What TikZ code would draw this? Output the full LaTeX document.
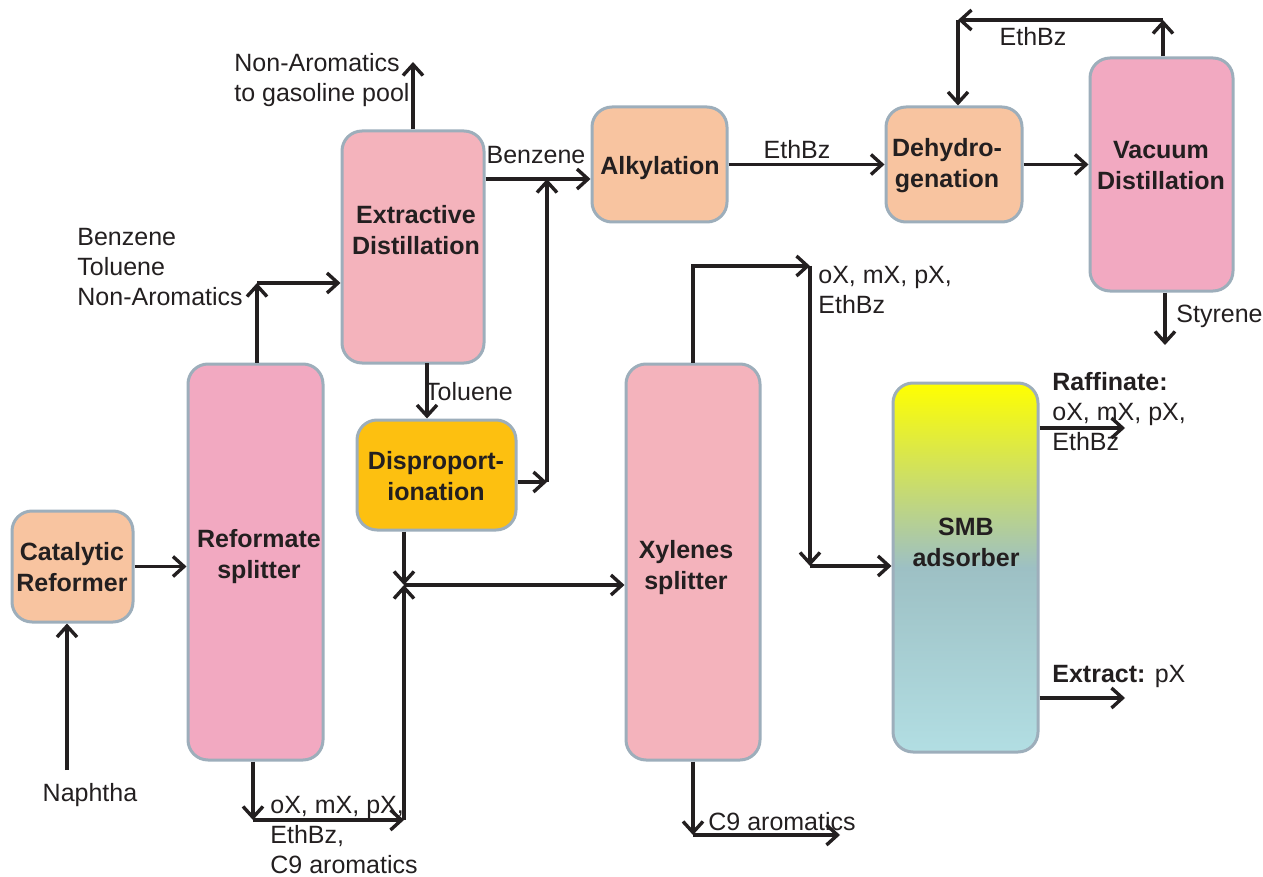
\documentclass[tikz,border=0pt]{standalone}
\usepackage{fontspec}
\setmainfont{Liberation Sans}
\usetikzlibrary{arrows.meta}

\definecolor{ink}{HTML}{231F20}
\definecolor{edgegray}{HTML}{9DAEBB}
\definecolor{peach}{HTML}{F8C4A0}
\definecolor{rose}{HTML}{F2A9C1}
\definecolor{blush}{HTML}{F4B3BC}
\definecolor{amber}{HTML}{FDC010}
\definecolor{smbtop}{HTML}{FFFF00}
\definecolor{smbmid}{HTML}{9DC0C4}
\definecolor{smbbot}{HTML}{B2DEE3}

\begin{document}
\begin{tikzpicture}[
  x = 0.5pt, y = -0.5pt,
  unit/.style = {
    shape = rectangle,
    rounded corners = 10pt,
    draw = edgegray,
    line width = 1.5pt,
    inner sep = 0pt,
  },
  unittext/.style = {
    font = \fontsize{12.5}{15.5}\selectfont\bfseries,
    text = ink,
    align = center,
    inner sep = 0pt,
  },
  stream/.style = {
    font = \fontsize{12.5}{15}\selectfont,
    text = ink,
    align = left,
    inner sep = 0pt,
  },
  flow/.style = {
    line width = 1.7pt,
    draw = ink,
    -{Straight Barb[length=5.5pt,width=10pt]}
  }
]
  \useasboundingbox (0, 0) rectangle (1263, 877);

  % process units
  \draw node[unit, fill = peach, minimum width = 60.5pt, minimum height = 55.5pt] (cat) at (72.5, 566.5) {};
  \draw node[unit, fill = rose, minimum width = 67.5pt, minimum height = 198pt] (split) at (255.5, 562) {};
  \draw node[unit, fill = blush, minimum width = 71pt, minimum height = 116pt] (extr) at (413, 247) {};
  \draw node[unit, fill = amber, minimum width = 79.5pt, minimum height = 55pt] (disp) at (436.5, 475) {};
  \draw node[unit, fill = peach, minimum width = 67.5pt, minimum height = 57.5pt] (alky) at (659.5, 164.5) {};
  \draw node[unit, fill = peach, minimum width = 68pt, minimum height = 57.5pt] (dehyd) at (954, 164.5) {};
  \draw node[unit, fill = rose, minimum width = 71.5pt, minimum height = 116.5pt] (vac) at (1161.5, 174.5) {};
  \draw node[unit, fill = blush, minimum width = 67pt, minimum height = 198pt] (xyl) at (693, 562) {};
  \draw node[unit, top color = smbtop, bottom color = smbbot, middle color = smbmid,
    minimum width = 72.5pt, minimum height = 184.5pt] (smb) at (965.5, 567.5) {};

  \draw node[unittext] (cat-t) at (72, 567.5) {Catalytic\\Reformer};
  \draw node[unittext] (split-t) at (259, 556.5) {Reformate\\splitter};
  \draw node[unittext] (extr-t) at (416, 230) {Extractive\\Distillation};
  \draw node[unittext] (disp-t) at (436, 476) {Disproport-\\ionation};
  \draw node[unittext] (alky-t) at (660, 168) {Alkylation};
  \draw node[unittext] (dehyd-t) at (947, 165.5) {Dehydro-\\genation};
  \draw node[unittext] (vac-t) at (1161, 165.5) {Vacuum\\Distillation};
  \draw node[unittext] (xyl-t) at (686, 567.5) {Xylenes\\splitter};
  \draw node[unittext] (smb-t) at (966, 542.5) {SMB\\adsorber};

  % stream labels
  \draw node[stream] (naph) at (90, 795) {Naphtha};
  \draw node[stream, anchor = north west] (btn) at (77, 228) {Benzene\\Toluene\\Non-Aromatics};
  \draw node[stream, anchor = north west] (gas) at (234, 53) {Non-Aromatics\\to gasoline pool};
  \draw node[stream] (bz-t) at (536, 155) {Benzene};
  \draw node[stream] (tol-t) at (469, 392) {Toluene};
  \draw node[stream, anchor = north west] (mixed) at (270, 796) {oX, mX, pX,\\EthBz,\\C9 aromatics};
  \draw node[stream, anchor = west] (c9-t) at (708, 822) {C9 aromatics};
  \draw node[stream, anchor = north west] (xfeed) at (818, 266) {oX, mX, pX,\\EthBz};
  \draw node[stream] (eb1) at (797, 150) {EthBz};
  \draw node[stream] (eb2) at (1033, 37) {EthBz};
  \draw node[stream, anchor = west] (sty-t) at (1176, 316) {Styrene};
  \draw node[stream, anchor = north west] (raf-t) at (1052, 372) {\textbf{Raffinate:}\\oX, mX, pX,\\EthBz};
  \draw node[stream, anchor = west] (ext-t) at (1052, 676) {\textbf{Extract:} pX};

  % junctions and loose ends
  \coordinate (feed) at (67, 770);
  \coordinate (bt) at (257, 283);
  \coordinate (top) at (413, 62);
  \coordinate (bz) at (547, 179);
  \coordinate (dj) at (547, 482);
  \coordinate (tol) at (427, 363);
  \coordinate (mix) at (404, 585);
  \coordinate (mixb) at (404, 820);
  \coordinate (sb) at (253, 820);
  \coordinate (xr) at (810, 266);
  \coordinate (xd) at (810, 566);
  \coordinate (c9) at (693, 835);
  \coordinate (c9e) at (840, 835);
  \coordinate (rt) at (1163, 20);
  \coordinate (rl) at (958, 20);
  \coordinate (sty) at (1165, 345);
  \coordinate (raf) at (1125, 428);
  \coordinate (ext) at (1125, 698);

  % streams
  \draw[flow] (feed) -- (feed |- cat.south);
  \draw[flow] (cat.east) -- (cat.east -| split.west);
  \draw[flow] (bt |- split.north) -- (bt);
  \draw[flow] (bt) -- (bt -| extr.west);
  \draw[flow] (extr.north) -- (top);
  \draw[flow] (bz -| extr.east) -- (bz -| alky.west);
  \draw[flow] (dj -| disp.east) -- (dj);
  \draw[flow] (dj) -- (bz);
  \draw[flow] (tol) -- (tol |- disp.north);
  \draw[flow] (mix |- disp.south) -- (mix);
  \draw[flow] (sb |- split.south) -- (sb);
  \draw[flow] (sb) -- (mixb);
  \draw[flow] (mixb) -- (mix);
  \draw[flow] (mix) -- (mix -| xyl.west);
  \draw[flow] (xyl.north) |- (xr);
  \draw[flow] (xr) -- (xd);
  \draw[flow] (xd) -- (xd -| smb.west);
  \draw[flow] (xyl.south) -- (c9);
  \draw[flow] (c9) -- (c9e);
  \draw[flow] (alky.east) -- (dehyd.west);
  \draw[flow] (dehyd.east) -- (dehyd.east -| vac.west);
  \draw[flow] (rt |- vac.north) -- (rt);
  \draw[flow] (rt) -- (rl);
  \draw[flow] (rl) -- (rl |- dehyd.north);
  \draw[flow] (sty |- vac.south) -- (sty);
  \draw[flow] (raf -| smb.east) -- (raf);
  \draw[flow] (ext -| smb.east) -- (ext);
\end{tikzpicture}
\end{document}
